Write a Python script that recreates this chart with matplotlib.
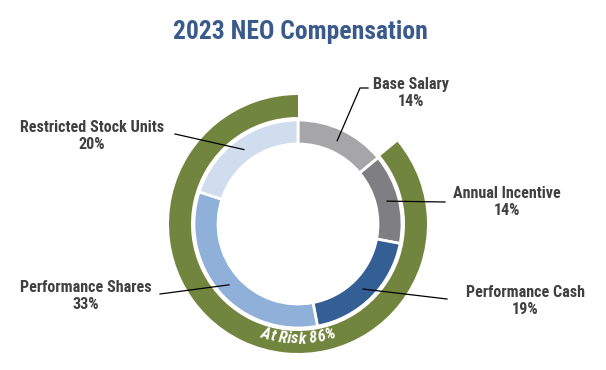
import numpy as np
import matplotlib.pyplot as plt
from matplotlib import font_manager

# inner ring
labels = ["Base Salary", "Annual Incentive", "Performance Cash",
          "Performance Shares", "Restricted Stock Units"]
values = [14, 14, 19, 33, 20]
colors = ["#a6a6a9", "#7f7f83", "#345f94", "#8fb0d8", "#d0ddee"]

# outer ring: fixed pay vs at risk
outer_values = [14, 86]
at_risk_label = "At Risk 86%"

names = {f.name for f in font_manager.fontManager.ttflist}
prefs = ["Liberation Sans Narrow", "Arial Narrow", "Roboto Condensed",
         "Archivo Narrow", "PT Sans Narrow", "Open Sans Condensed",
         "Asap Condensed", "Liberation Sans"]
fam = next(p for p in prefs if p in names)

W, H = 606, 370
cx, cy = 298, H - 224

fig = plt.figure(figsize=(6.06, 3.70), dpi=100)
ax = fig.add_axes([0, 0, 1, 1])
ax.axis("off")
renderer = fig.canvas.get_renderer()


def text_w(s, size, **kw):
    t = ax.text(0, 0, s, fontsize=size, family=fam, fontweight="bold", **kw)
    w = t.get_window_extent(renderer).width
    t.remove()
    return w


def fit_size(s, target_w, base=12, **kw):
    return base * target_w / text_w(s, base, **kw)


ax.pie(outer_values, colors=["none", "#72853f"], radius=129, center=(cx, cy),
       startangle=90, counterclock=False,
       wedgeprops=dict(width=22, edgecolor="none"))
ax.pie(values, colors=colors, radius=104, center=(cx, cy),
       startangle=90, counterclock=False,
       wedgeprops=dict(width=24, edgecolor="white", linewidth=2))
ax.set_xlim(0, W)
ax.set_ylim(0, H)
ax.set_aspect("equal")

title = "2023 NEO Compensation"
ax.text(300, H - 32, title, ha="center", va="center",
        fontsize=min(fit_size(title, 255), 20), fontweight="bold",
        color="#3a5a8c", family=fam)

lab_size = min(fit_size("Restricted Stock Units", 145), 12.5)

# label positions and leader elbows (pixel coords, y from top)
lab_pos = [(411, 93), (507, 202), (525, 301), (86, 296), (92, 136)]
elbows = [[(360, 88), (368, 88)], [(445, 202)], [(447, 299)], [(160, 294)], [(175, 134)]]

cum = np.cumsum([0] + values)
for i, lab in enumerate(labels):
    mid = (cum[i] + cum[i + 1]) / 2 / sum(values) * 2 * np.pi
    sx = cx + 92 * np.sin(mid)
    sy = cy + 92 * np.cos(mid)
    pts = [(sx, sy)] + [(x, H - y) for x, y in elbows[i]]
    ax.plot([p[0] for p in pts], [p[1] for p in pts], color="black", lw=0.9)
    tx, ty = lab_pos[i]
    ax.text(tx, H - ty, f"{lab}\n{values[i]}%", ha="center", va="center",
            fontsize=lab_size, fontweight="bold", color="#404040", family=fam,
            linespacing=1.2)

# curved "At Risk" text along bottom of outer ring
r = 115
risk_size = min(fit_size(at_risk_label, 75, style="italic"), 12)
# character centres from prefix widths (keeps spacing/kerning)
pref = [0.0]
for k in range(1, len(at_risk_label) + 1):
    sub = at_risk_label[:k]
    pref.append(text_w(sub + "|", risk_size, style="italic")
                - text_w("|", risk_size, style="italic"))
total = pref[-1]
for k, ch in enumerate(at_risk_label):
    if ch == " ":
        continue
    sc = (pref[k] + pref[k + 1]) / 2 - total / 2
    ang = sc / r
    x = cx + r * np.sin(ang)
    y = cy - r * np.cos(ang)
    ax.text(x, y, ch, fontsize=risk_size, fontweight="bold", style="italic",
            family=fam, color="white", ha="center", va="center",
            rotation=np.degrees(ang), rotation_mode="anchor")

fig.savefig("out.png", dpi=100)
